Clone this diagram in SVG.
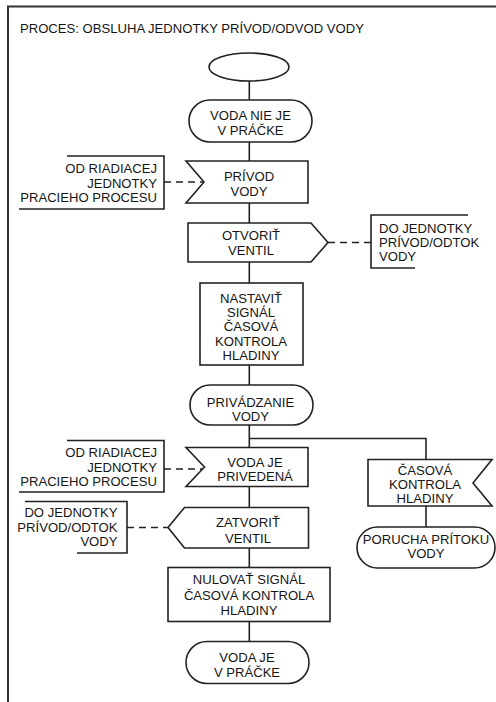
<svg xmlns="http://www.w3.org/2000/svg" width="496" height="702" viewBox="0 0 496 702">
  <style>
    .shape { fill: #fff; stroke: #222; stroke-width: 1.6; }
    .line { fill: none; stroke: #222; stroke-width: 1.6; }
    .dash { stroke-dasharray: 7 5; }
    text { font-family: "Liberation Sans", Arial, sans-serif; font-size: 13.1px; fill: #151515; }
    .c { text-anchor: middle; }
    .r { text-anchor: end; }
  </style>
  <rect width="496" height="702" fill="#fff"/>

  <!-- page frame and title -->
  <g id="frame">
    <path d="M8 702V6.5H496" fill="none" stroke="#333" stroke-width="2"/>
    <text x="20" y="33" font-size="13.9">PROCES: OBSLUHA JEDNOTKY PRÍVOD/ODVOD VODY</text>
  </g>

  <!-- connectors -->
  <g id="connectors">
    <path class="line" d="M249.3 81V100"/>
    <path class="line" d="M249.3 142V161"/>
    <path class="line" d="M249.3 203V223"/>
    <path class="line" d="M249.3 262V283"/>
    <path class="line" d="M249.3 365V385"/>
    <path class="line" d="M249.3 425V447.5"/>
    <path class="line" d="M249.3 486.5V507.5"/>
    <path class="line" d="M249.3 548V567.5"/>
    <path class="line" d="M249.3 621.5V641.5"/>
    <path class="line" d="M249.3 438.5H426V459.5"/>
    <path class="line" d="M426 506V527"/>
    <path class="line dash" d="M164 182H204"/>
    <path class="line dash" d="M328 242.5H371"/>
    <path class="line dash" d="M164 469H204.5"/>
    <path class="line dash" d="M127 527.5H168"/>
  </g>

  <g id="start">
    <ellipse class="shape" cx="249" cy="67" rx="40" ry="14"/>
  </g>

  <g id="voda-nie-je">
    <rect class="shape" x="189" y="100" width="123" height="42" rx="21"/>
    <text class="c" x="250.5" y="120">VODA NIE JE</text>
    <text class="c" x="250.5" y="135">V PRÁČKE</text>
  </g>

  <g id="privod-vody">
    <path class="shape" d="M186 161H308V203H186L204 182Z"/>
    <text class="c" x="249" y="181">PRÍVOD</text>
    <text class="c" x="249" y="195.5">VODY</text>
  </g>

  <g id="zdroj-1">
    <path class="line" d="M67 156H164V209H19"/>
    <text class="r" x="157" y="173">OD RIADIACEJ</text>
    <text class="r" x="157" y="187.5">JEDNOTKY</text>
    <text class="r" x="157" y="201.5">PRACIEHO PROCESU</text>
  </g>

  <g id="otvorit-ventil">
    <path class="shape" d="M188 223H311L328 242.5L311 262H188Z"/>
    <text class="c" x="251" y="240">OTVORIŤ</text>
    <text class="c" x="251" y="255">VENTIL</text>
  </g>

  <g id="ciel-1">
    <path class="line" d="M468 215H371V268H415"/>
    <text x="379" y="233">DO JEDNOTKY</text>
    <text x="379" y="247">PRÍVOD/ODTOK</text>
    <text x="379" y="261">VODY</text>
  </g>

  <g id="nastavit-signal">
    <rect class="shape" x="200" y="283" width="103" height="82"/>
    <text class="c" x="251" y="302.7">NASTAVIŤ</text>
    <text class="c" x="251" y="317">SIGNÁL</text>
    <text class="c" x="251" y="331.3">ČASOVÁ</text>
    <text class="c" x="251" y="345.7">KONTROLA</text>
    <text class="c" x="251" y="360">HLADINY</text>
  </g>

  <g id="privadzanie-vody">
    <rect class="shape" x="190" y="385" width="123" height="40" rx="20"/>
    <text class="c" x="250.5" y="407">PRIVÁDZANIE</text>
    <text class="c" x="250.5" y="421">VODY</text>
  </g>

  <g id="voda-je-privedena">
    <path class="shape" d="M186 447.5H308V486.5H186L204.5 467Z"/>
    <text class="c" x="255" y="467">VODA JE</text>
    <text class="c" x="255" y="480.5">PRIVEDENÁ</text>
  </g>

  <g id="zdroj-2">
    <path class="line" d="M67 440.5H164V492H19"/>
    <text class="r" x="157" y="457">OD RIADIACEJ</text>
    <text class="r" x="157" y="471.5">JEDNOTKY</text>
    <text class="r" x="157" y="485.5">PRACIEHO PROCESU</text>
  </g>

  <g id="casova-kontrola">
    <path class="shape" d="M368 459.5H492L473 483L492 506H368Z"/>
    <text class="c" x="425" y="475">ČASOVÁ</text>
    <text class="c" x="425" y="488.5">KONTROLA</text>
    <text class="c" x="425" y="502.5">HLADINY</text>
  </g>

  <g id="porucha-pritoku">
    <rect class="shape" x="357" y="527" width="138" height="41" rx="20.5"/>
    <text class="c" x="426" y="543.5">PORUCHA PRÍTOKU</text>
    <text class="c" x="426" y="558">VODY</text>
  </g>

  <g id="zatvorit-ventil">
    <path class="shape" d="M168 527.5L184.5 507.5H308.5V548H184.5Z"/>
    <text class="c" x="248" y="527.3">ZATVORIŤ</text>
    <text class="c" x="248" y="542.7">VENTIL</text>
  </g>

  <g id="ciel-2">
    <path class="line" d="M25 501.5H127V553H77"/>
    <text class="r" x="117.5" y="517">DO JEDNOTKY</text>
    <text class="r" x="117.5" y="531.5">PRÍVOD/ODTOK</text>
    <text class="r" x="117.5" y="546">VODY</text>
  </g>

  <g id="nulovat-signal">
    <rect class="shape" x="168" y="567.5" width="162" height="54"/>
    <text class="c" x="249" y="584">NULOVAŤ SIGNÁL</text>
    <text class="c" x="249" y="600">ČASOVÁ KONTROLA</text>
    <text class="c" x="249" y="615">HLADINY</text>
  </g>

  <g id="voda-je-v-pracke">
    <rect class="shape" x="186" y="641.5" width="123" height="42" rx="21"/>
    <text class="c" x="247" y="661.7">VODA JE</text>
    <text class="c" x="247" y="676.7">V PRÁČKE</text>
  </g>
</svg>
